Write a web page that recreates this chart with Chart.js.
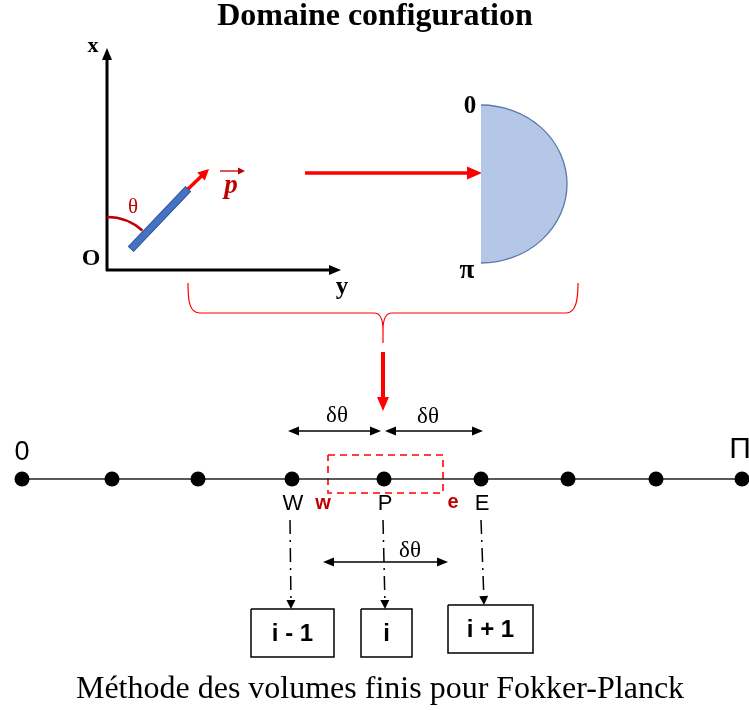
<!DOCTYPE html>
<html>
<head>
<meta charset="utf-8">
<script src="https://cdn.jsdelivr.net/npm/chart.js@4.4.1/dist/chart.umd.min.js"></script>
<style>
  html, body { margin: 0; padding: 0; background: #fff; }
  #wrap { width: 749px; height: 710px; }
</style>
</head>
<body>
<div id="wrap"><canvas id="diagram" width="749" height="710"></canvas></div>
<script>
// Données du schéma (unités du dessin)
const titleText = 'Domaine configuration';
const captionText = 'Méthode des volumes finis pour Fokker-Planck';
const nodeX = [22, 112, 198, 292, 384, 481, 568, 656, 742];   // maillage en θ
const endLabels = ['0', 'Π'];
const nodeNames = ['W', 'P', 'E'];          // noeuds 3, 4, 5
const faceNames = ['w', 'e'];
const faceX = [328, 443];
const cellLabels = ['i - 1', 'i', 'i + 1'];
const cellLeft = [251, 361, 448];
const cellRight = [334, 412, 533];
const cellTop = [609, 609, 605];

const lineY = 479;
const RED = '#FF0000';
const DARKRED = '#C00000';

// Jeux de données : maillage, volume de contrôle, liaisons, cases
const meshData = nodeX.map(x => ({ x: x, y: lineY }));
const cvData = [
  { x: faceX[0], y: 455 }, { x: faceX[1], y: 455 },
  { x: faceX[1], y: 493 }, { x: faceX[0], y: 493 }, { x: faceX[0], y: 455 }
];
const linkSets = [3, 4, 5].map((n, i) => [
  { x: nodeX[n] - 2 + i, y: 520 }, { x: nodeX[n] - 1 + i * 2, y: cellTop[i] - 4 }
]);
const boxSets = cellLabels.map((l, i) => [
  { x: cellLeft[i], y: cellTop[i] }, { x: cellRight[i], y: cellTop[i] },
  { x: cellRight[i], y: cellTop[i] + 48 }, { x: cellLeft[i], y: cellTop[i] + 48 },
  { x: cellLeft[i], y: cellTop[i] }
]);

function arrowHead(ctx, x1, y1, x2, y2, len, wid, color) {
  const a = Math.atan2(y2 - y1, x2 - x1);
  ctx.save();
  ctx.fillStyle = color;
  ctx.translate(x2, y2);
  ctx.rotate(a);
  ctx.beginPath();
  ctx.moveTo(0, 0);
  ctx.lineTo(-len, -wid / 2);
  ctx.lineTo(-len, wid / 2);
  ctx.closePath();
  ctx.fill();
  ctx.restore();
}

function arrow(ctx, x1, y1, x2, y2, lw, color, len, wid, both) {
  const a = Math.atan2(y2 - y1, x2 - x1);
  ctx.save();
  ctx.strokeStyle = color;
  ctx.lineWidth = lw;
  ctx.beginPath();
  ctx.moveTo(x1 + (both ? Math.cos(a) * len * 0.8 : 0), y1 + (both ? Math.sin(a) * len * 0.8 : 0));
  ctx.lineTo(x2 - Math.cos(a) * len * 0.8, y2 - Math.sin(a) * len * 0.8);
  ctx.stroke();
  ctx.restore();
  arrowHead(ctx, x1, y1, x2, y2, len, wid, color);
  if (both) arrowHead(ctx, x2, y2, x1, y1, len, wid, color);
}

function text(ctx, s, x, y, font, color) {
  ctx.save();
  ctx.font = font;
  ctx.fillStyle = color || '#000';
  ctx.textAlign = 'center';
  ctx.textBaseline = 'middle';
  ctx.fillText(s, x, y);
  ctx.restore();
}

const diagramPlugin = {
  id: 'diagram',
  afterDatasetsDraw(chart) {
    const ctx = chart.ctx;
    const sx = v => chart.scales.x.getPixelForValue(v);
    const sy = v => chart.scales.y.getPixelForValue(v);

    // titre
    text(ctx, titleText, sx(375), sy(17), 'bold 32px "Liberation Serif"');

    // repère x, y
    arrow(ctx, sx(107), sy(271), sx(107), sy(48), 3, '#000', 12, 10);
    arrow(ctx, sx(106), sy(270), sx(341), sy(270), 3, '#000', 12, 10);
    text(ctx, 'x', sx(93), sy(46), 'bold 22px "Liberation Serif"');
    text(ctx, 'O', sx(91), sy(259), 'bold 24px "Liberation Serif"');
    text(ctx, 'y', sx(342), sy(288), 'bold 25px "Liberation Serif"');

    // angle θ
    ctx.save();
    ctx.strokeStyle = DARKRED;
    ctx.lineWidth = 2.5;
    ctx.beginPath();
    ctx.arc(sx(107), sy(270), 53, -Math.PI / 2, -0.84);
    ctx.stroke();
    ctx.restore();
    text(ctx, 'θ', sx(133), sy(207), '21px "Liberation Serif"', DARKRED);

    // bâtonnet + vecteur p
    ctx.save();
    ctx.translate(sx(131), sy(249));
    ctx.rotate(Math.atan2(189 - 249, 188 - 131));
    const L = Math.hypot(57, 60);
    ctx.fillStyle = '#4472C4';
    ctx.strokeStyle = '#2F528F';
    ctx.lineWidth = 1;
    ctx.fillRect(0, -3.5, L, 7);
    ctx.strokeRect(0, -3.5, L, 7);
    ctx.restore();
    arrow(ctx, sx(188), sy(189), sx(209), sy(169), 3.5, RED, 11, 11);
    text(ctx, 'p', sx(231), sy(186), 'bold italic 27px "Liberation Serif"', DARKRED);
    arrow(ctx, sx(220), sy(171), sx(245), sy(171), 1.3, DARKRED, 7, 7);

    // flèche vers le demi-disque
    arrow(ctx, sx(305), sy(173), sx(482), sy(173), 3.5, RED, 15, 13);

    // demi-disque [0, π]
    ctx.save();
    ctx.beginPath();
    ctx.ellipse(sx(481), sy(184), 86, 79, 0, -Math.PI / 2, Math.PI / 2);
    ctx.closePath();
    ctx.fillStyle = '#B4C7E7';
    ctx.fill();
    ctx.strokeStyle = '#5A78A8';
    ctx.lineWidth = 1.3;
    ctx.beginPath();
    ctx.ellipse(sx(481), sy(184), 86, 79, 0, -Math.PI / 2, Math.PI / 2);
    ctx.stroke();
    ctx.restore();
    text(ctx, '0', sx(470), sy(107), 'bold 25px "Liberation Serif"');
    text(ctx, 'π', sx(467), sy(271), 'bold 27px "Liberation Serif"');

    // accolade
    ctx.save();
    ctx.strokeStyle = RED;
    ctx.lineWidth = 1.2;
    ctx.beginPath();
    ctx.moveTo(sx(188), sy(283));
    ctx.bezierCurveTo(sx(188), sy(300), sx(189), sy(313), sx(200), sy(313));
    ctx.lineTo(sx(374), sy(313));
    ctx.quadraticCurveTo(sx(383), sy(313), sx(383), sy(330));
    ctx.lineTo(sx(383), sy(343));
    ctx.moveTo(sx(383), sy(330));
    ctx.quadraticCurveTo(sx(383), sy(313), sx(392), sy(313));
    ctx.lineTo(sx(566), sy(313));
    ctx.bezierCurveTo(sx(576), sy(313), sx(578), sy(300), sx(578), sy(283));
    ctx.stroke();
    ctx.restore();
    arrow(ctx, sx(383), sy(352), sx(383), sy(411), 4, RED, 14, 12);

    // δθ
    arrow(ctx, sx(288), sy(431), sx(381), sy(431), 1.4, '#000', 11, 9, true);
    arrow(ctx, sx(385), sy(431), sx(483), sy(431), 1.4, '#000', 11, 9, true);
    text(ctx, 'δθ', sx(337), sy(416), '23px "Liberation Serif"');
    text(ctx, 'δθ', sx(428), sy(417), '23px "Liberation Serif"');
    arrow(ctx, sx(323), sy(562), sx(448), sy(562), 1.4, '#000', 11, 9, true);
    text(ctx, 'δθ', sx(410), sy(551), '23px "Liberation Serif"');

    // étiquettes du maillage
    text(ctx, endLabels[0], sx(nodeX[0]), sy(453), '27px "Liberation Sans"');
    text(ctx, endLabels[1], sx(nodeX[8] - 2), sy(450), '30px "Liberation Sans"');
    nodeNames.forEach((n, i) => {
      text(ctx, n, sx(nodeX[3 + i] + 1), sy(504), '22px "Liberation Sans"');
    });
    text(ctx, faceNames[0], sx(faceX[0] - 5), sy(503), 'bold 20px "Liberation Sans"', DARKRED);
    text(ctx, faceNames[1], sx(faceX[1] + 10), sy(502), 'bold 20px "Liberation Sans"', DARKRED);

    // pointes des liaisons
    linkSets.forEach(d => {
      arrowHead(ctx, sx(d[0].x), sy(d[0].y), sx(d[1].x), sy(d[1].y) + 4, 9, 9, '#000');
    });

    // cases i-1, i, i+1
    cellLabels.forEach((l, i) => {
      text(ctx, l, sx((cellLeft[i] + cellRight[i]) / 2), sy(cellTop[i] + 25),
        'bold 24px "Liberation Sans"');
    });

    // légende
    text(ctx, captionText, sx(380), sy(690), '32px "Liberation Serif"');
  }
};

const datasets = [
  {
    data: meshData, showLine: true, borderColor: '#222', borderWidth: 1.5,
    pointRadius: 7.5, pointBackgroundColor: '#000', pointBorderWidth: 0
  },
  {
    data: cvData, showLine: true, borderColor: RED, borderWidth: 1.6,
    borderDash: [7, 5], pointRadius: 0
  }
];
linkSets.forEach(d => datasets.push({
  data: d, showLine: true, borderColor: '#000', borderWidth: 1.5,
  borderDash: [14, 6, 2, 6], pointRadius: 0
}));
boxSets.forEach(d => datasets.push({
  data: d, showLine: true, borderColor: '#000', borderWidth: 1.5, pointRadius: 0
}));

new Chart(document.getElementById('diagram'), {
  type: 'scatter',
  data: { datasets: datasets },
  options: {
    responsive: false,
    animation: false,
    layout: { padding: 0, autoPadding: false },
    scales: {
      x: { type: 'linear', min: 0, max: 749, display: false },
      y: { type: 'linear', min: 0, max: 710, reverse: true, display: false }
    },
    plugins: { legend: { display: false }, tooltip: { enabled: false } },
    elements: { line: { tension: 0 } }
  },
  plugins: [diagramPlugin]
});
</script>
</body>
</html>
